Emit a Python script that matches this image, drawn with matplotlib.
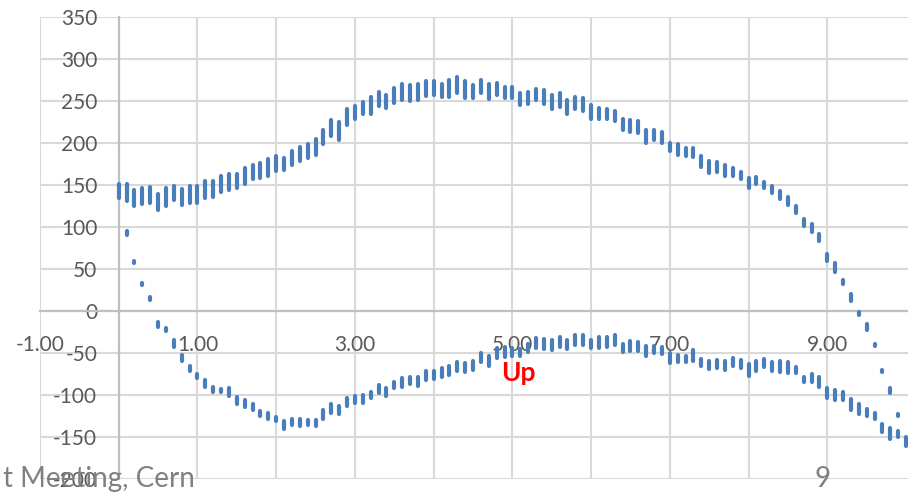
import matplotlib
matplotlib.use("Agg")
import matplotlib.pyplot as plt

plt.rcParams['font.family'] = ['Lato', 'DejaVu Sans']

# x positions of the two branches
x_upper = [0.0, 0.1, 0.2, 0.3, 0.4, 0.5, 0.6, 0.7, 0.8, 0.9,
           1.0, 1.1, 1.2, 1.3, 1.4, 1.5, 1.6, 1.7, 1.8, 1.9,
           2.0, 2.1, 2.2, 2.3, 2.4, 2.5, 2.6, 2.7, 2.8, 2.9,
           3.0, 3.1, 3.2, 3.3, 3.4, 3.5, 3.6, 3.7, 3.8, 3.9,
           4.0, 4.1, 4.2, 4.3, 4.4, 4.5, 4.6, 4.7, 4.8, 4.9,
           5.0, 5.1, 5.2, 5.3, 5.4, 5.5, 5.6, 5.7, 5.8, 5.9,
           6.0, 6.1, 6.2, 6.3, 6.4, 6.5, 6.6, 6.7, 6.8, 6.9,
           7.0, 7.1, 7.2, 7.3, 7.4, 7.5, 7.6, 7.7, 7.8, 7.9,
           8.0, 8.1, 8.2, 8.3, 8.4, 8.5, 8.6, 8.7, 8.8, 8.9,
           9.0, 9.1, 9.2, 9.3, 9.4, 9.5, 9.6, 9.7, 9.8, 9.9]
upper_hi = [153, 153, 146, 148, 150, 141, 148, 151, 147, 151,
            151, 157, 157, 163, 165, 165, 172, 176, 178, 183,
            187, 184, 192, 197, 201, 207, 218, 229, 227, 242,
            246, 251, 257, 263, 259, 267, 272, 271, 272, 276,
            276, 272, 277, 280, 276, 271, 277, 272, 274, 269,
            269, 261, 263, 266, 265, 259, 262, 253, 257, 255,
            247, 244, 242, 240, 230, 229, 228, 218, 218, 215,
            202, 201, 196, 196, 186, 181, 179, 176, 172, 168,
            160, 161, 155, 151, 145, 138, 127, 112, 105, 94,
            70, 59, 39, 22, 1, -14, -37, -68, -90, -121]
upper_lo = [132, 129, 123, 125, 126, 118, 123, 130, 124, 127,
            126, 133, 134, 140, 142, 144, 149, 155, 156, 159,
            165, 166, 172, 177, 180, 184, 197, 206, 202, 219,
            227, 232, 232, 242, 240, 246, 249, 248, 249, 254,
            255, 253, 253, 258, 252, 252, 257, 250, 255, 252,
            252, 243, 244, 249, 245, 239, 241, 233, 238, 236,
            226, 226, 226, 224, 213, 211, 210, 198, 201, 198,
            188, 184, 182, 181, 170, 162, 163, 159, 159, 155,
            145, 149, 144, 139, 131, 124, 115, 99, 92, 81,
            57, 45, 30, 10, -7, -25, -44, -75, -100, -127]

x_lower = [0.1, 0.2, 0.3, 0.4, 0.5, 0.6, 0.7, 0.8, 0.9, 1.0,
           1.1, 1.2, 1.3, 1.4, 1.5, 1.6, 1.7, 1.8, 1.9, 2.0,
           2.1, 2.2, 2.3, 2.4, 2.5, 2.6, 2.7, 2.8, 2.9, 3.0,
           3.1, 3.2, 3.3, 3.4, 3.5, 3.6, 3.7, 3.8, 3.9, 4.0,
           4.1, 4.2, 4.3, 4.4, 4.5, 4.6, 4.7, 4.8, 4.9, 5.0,
           5.1, 5.2, 5.3, 5.4, 5.5, 5.6, 5.7, 5.8, 5.9, 6.0,
           6.1, 6.2, 6.3, 6.4, 6.5, 6.6, 6.7, 6.8, 6.9, 7.0,
           7.1, 7.2, 7.3, 7.4, 7.5, 7.6, 7.7, 7.8, 7.9, 8.0,
           8.1, 8.2, 8.3, 8.4, 8.5, 8.6, 8.7, 8.8, 8.9, 9.0,
           9.1, 9.2, 9.3, 9.4, 9.5, 9.6, 9.7, 9.8, 9.9, 10.0]
lower_hi = [97, 62, 35, 19, -11, -18, -32, -50, -64, -73,
            -80, -88, -91, -90, -100, -104, -109, -117, -119, -124,
            -129, -127, -127, -128, -128, -116, -109, -111, -101, -99,
            -98, -95, -86, -90, -83, -78, -77, -77, -70, -69,
            -66, -64, -59, -60, -58, -48, -52, -42, -41, -42,
            -43, -37, -30, -31, -33, -29, -33, -27, -27, -33,
            -29, -29, -26, -37, -34, -35, -40, -40, -41, -48,
            -50, -51, -44, -55, -57, -56, -58, -54, -56, -61,
            -58, -55, -59, -58, -59, -65, -76, -73, -77, -90,
            -92, -95, -103, -109, -115, -120, -132, -137, -141, -148]
lower_lo = [88, 55, 29, 11, -21, -26, -45, -61, -74, -82,
            -92, -98, -98, -103, -113, -116, -120, -127, -130, -133,
            -142, -138, -139, -138, -139, -130, -123, -125, -115, -112,
            -112, -105, -100, -103, -94, -92, -89, -91, -84, -83,
            -81, -78, -73, -75, -72, -63, -67, -58, -57, -55,
            -55, -51, -46, -47, -48, -45, -47, -43, -43, -46,
            -46, -45, -43, -51, -50, -50, -55, -52, -53, -64,
            -63, -63, -61, -68, -71, -70, -72, -68, -70, -79,
            -73, -69, -74, -75, -76, -76, -87, -87, -92, -105,
            -108, -108, -120, -125, -127, -131, -146, -154, -152, -163]

x_labels = ['-1.00', '1.00', '3.00', '5.00', '7.00', '9.00']
x_label_pos = [-1, 1, 3, 5, 7, 9]
x_grid = [-1, 0, 1, 2, 3, 4, 5, 6, 7, 8, 9]
y_ticks = [-200, -150, -100, -50, 0, 50, 100, 150, 200, 250, 300, 350]

blue = '#4a7ebb'
grid_col = '#d9d9d9'
text_col = '#595959'

fig = plt.figure(figsize=(9.08, 4.92), dpi=100)
ax = fig.add_axes([40 / 908, 13 / 492, 868 / 908, 462 / 492])
ax.set_xlim(-1, 10.025)
ax.set_ylim(-200, 350)

# vertical bars of points
for x, hi, lo in zip(x_upper, upper_hi, upper_lo):
    ax.plot([x, x], [lo + 2, hi - 2], color=blue, lw=3.0,
            solid_capstyle='round', zorder=3)
for x, hi, lo in zip(x_lower, lower_hi, lower_lo):
    ax.plot([x, x], [lo + 2, hi - 2], color=blue, lw=3.0,
            solid_capstyle='round', zorder=3)

# grid
for gx in x_grid:
    ax.axvline(gx, color=grid_col, lw=1.5, zorder=1)
for gy in y_ticks:
    ax.axhline(gy, color=grid_col, lw=1.5, zorder=1)

for s in ['top', 'right']:
    ax.spines[s].set_visible(False)
ax.spines['left'].set_position(('data', 0))
ax.spines['bottom'].set_position(('data', 0))
for s in ['left', 'bottom']:
    ax.spines[s].set_color('#bfbfbf')
    ax.spines[s].set_linewidth(1.6)
    ax.spines[s].set_zorder(2)

ax.set_xticks(x_label_pos)
ax.set_xticklabels(x_labels)
ax.set_yticks(y_ticks)
ax.set_yticklabels([str(v) for v in y_ticks])
ax.tick_params(axis='x', length=0, pad=17, labelsize=15, labelcolor=text_col)
ax.tick_params(axis='y', length=0, pad=15.5, labelsize=15, labelcolor=text_col)

ax.text(5.07, -74, 'Up', color='#ff0000', fontsize=19, fontweight='bold',
        ha='center', va='center', zorder=4)

# slide footer
fig.text(195 / 908, 5 / 492, 't Meeting, Cern', color='#808080',
         fontsize=20, ha='right', va='baseline')
fig.text(823 / 908, 5 / 492, '9', color='#808080',
         fontsize=20, ha='center', va='baseline')

fig.savefig('out.png', dpi=100)
